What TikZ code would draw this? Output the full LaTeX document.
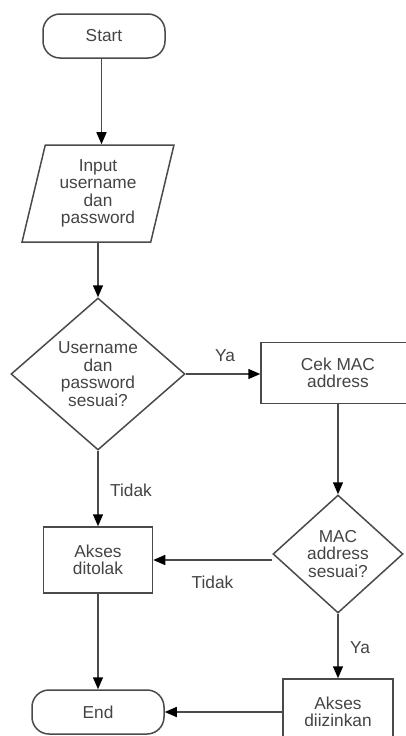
\documentclass[tikz,border=0pt]{standalone}
\usepackage{fontspec}
\setmainfont{Liberation Sans}
\usetikzlibrary{shapes.geometric,arrows.meta}
\definecolor{linec}{HTML}{4A4A4A}
\definecolor{textc}{HTML}{444444}
\begin{document}
\begin{tikzpicture}[x=1pt,y=-1pt,
  base/.style={draw=linec, line width=1.5pt, text=textc, align=center,
    font=\fontsize{17.3pt}{17.5pt}\selectfont, inner sep=0pt},
  term/.style={base, rounded corners=17pt},
  proc/.style={base, rectangle},
  io/.style={base, trapezium, trapezium left angle=76, trapezium right angle=104,
    trapezium stretches=true},
  decision/.style={base, diamond},
  arr/.style={draw=linec, line width=1.5pt, -{Triangle[length=12pt,width=10pt,black]}},
  lbl/.style={text=textc, font=\fontsize{17.3pt}{17.5pt}\selectfont, inner sep=0pt}
]
\clip (0,0) rectangle (406,736);
\node[term, minimum width=122pt, minimum height=44pt] (start) at (104,36) {Start};
\node[io, minimum width=152pt, minimum height=97pt] (input) at (98,193.5) {Input\\username\\dan\\password};
\node[decision, minimum width=174pt, minimum height=152pt] (d1) at (98,374) {Username\\dan\\password\\sesuai?};
\node[proc, minimum width=154pt, minimum height=61pt] (cek) at (338,373) {Cek MAC\\address};
\node[decision, minimum width=130pt, minimum height=118pt] (d2) at (338,554) {MAC\\address\\sesuai?};
\node[proc, minimum width=109pt, minimum height=66pt] (tolak) at (98,560) {Akses\\ditolak};
\node[term, minimum width=132pt, minimum height=44pt] (end) at (98,712) {End};
\node[proc, minimum width=110pt, minimum height=66pt] (izin) at (338,712) {Akses\\diizinkan};

\draw[arr] ([xshift=-2.5pt]start.south) -- ([xshift=-2.5pt]start.south |- input.north);
\draw[arr] (d1.north |- input.south) -- (d1.north);
\draw[arr] (d1.east) -- (d1.east -| cek.west);
\draw[arr] (cek.south) -- (d2.north);
\draw[arr] (d2.west |- tolak.east) -- (tolak.east);
\draw[arr] (d1.south) -- (tolak.north);
\draw[arr] (tolak.south) -- (end.north);
\draw[arr] (d2.south) -- (izin.north);
\draw[arr] (izin.west) -- (end.east);

\node[lbl] (ya1) at (225,356) {Ya};
\node[lbl] (tidak1) at (131,490) {Tidak};
\node[lbl] (tidak2) at (212.5,582) {Tidak};
\node[lbl] (ya2) at (360,648) {Ya};
\end{tikzpicture}
\end{document}
